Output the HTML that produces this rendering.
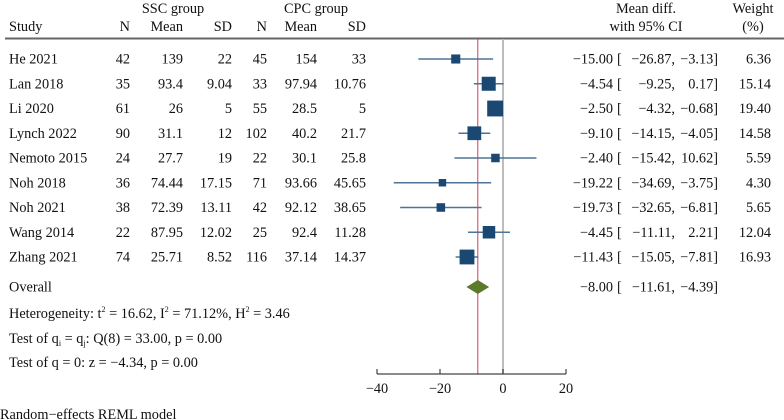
<!DOCTYPE html>
<html><head><meta charset="utf-8"><style>
html,body{margin:0;padding:0;background:#fff;}
svg{display:block;font-family:"Liberation Serif",serif;font-size:14.3px;fill:#111;}
</style></head><body>
<svg id="chart" width="784" height="420" viewBox="0 0 784 420" xmlns="http://www.w3.org/2000/svg">
<g id="head">
<text x="173" y="13" text-anchor="middle">SSC group</text>
<text x="316" y="13" text-anchor="middle">CPC group</text>
<text x="9" y="31">Study</text>
<text x="130" y="31" text-anchor="end">N</text>
<text x="183" y="31" text-anchor="end">Mean</text>
<text x="232" y="31" text-anchor="end">SD</text>
<text x="267" y="31" text-anchor="end">N</text>
<text x="317" y="31" text-anchor="end">Mean</text>
<text x="366" y="31" text-anchor="end">SD</text>
<text x="646" y="13" text-anchor="middle">Mean diff.</text>
<text x="646" y="31" text-anchor="middle">with 95% CI</text>
<text x="753" y="13" text-anchor="middle">Weight</text>
<text x="753" y="31" text-anchor="middle">(%)</text>
<line x1="5" y1="38.5" x2="784" y2="38.5" stroke="#666" stroke-width="2"/>
</g>
<g id="rows"></g>
<g id="plot"></g>
<g>
<text x="9" y="318">Heterogeneity: t<tspan font-size="8" dy="-6">2</tspan><tspan dy="6"> = 16.62, I</tspan><tspan font-size="8" dy="-6">2</tspan><tspan dy="6"> = 71.12%, H</tspan><tspan font-size="8" dy="-6">2</tspan><tspan dy="6"> = 3.46</tspan></text>
<text x="9" y="343">Test of q<tspan font-size="8" dy="3">i</tspan><tspan dy="-3"> = q</tspan><tspan font-size="8" dy="3">j</tspan><tspan dy="-3">: Q(8) = 33.00, p = 0.00</tspan></text>
<text x="9" y="367">Test of q = 0: z = −4.34, p = 0.00</text>
<text x="0" y="419">Random−effects REML model</text>
</g>
</svg>
<script>
const studies = ["He 2021","Lan 2018","Li 2020","Lynch 2022","Nemoto 2015","Noh 2018","Noh 2021","Wang 2014","Zhang 2021"];
const sscN = ["42","35","61","90","24","36","38","22","74"];
const sscMean = ["139","93.4","26","31.1","27.7","74.44","72.39","87.95","25.71"];
const sscSD = ["22","9.04","5","12","19","17.15","13.11","12.02","8.52"];
const cpcN = ["45","33","55","102","22","71","42","25","116"];
const cpcMean = ["154","97.94","28.5","40.2","30.1","93.66","92.12","92.4","37.14"];
const cpcSD = ["33","10.76","5","21.7","25.8","45.65","38.65","11.28","14.37"];
const est = [-15.00,-4.54,-2.50,-9.10,-2.40,-19.22,-19.73,-4.45,-11.43];
const lo = [-26.87,-9.25,-4.32,-14.15,-15.42,-34.69,-32.65,-11.11,-15.05];
const hi = [-3.13,0.17,-0.68,-4.05,10.62,-3.75,-6.81,2.21,-7.81];
const weight = [6.36,15.14,19.40,14.58,5.59,4.30,5.65,12.04,16.93];
const overall = [-8.00,-11.61,-4.39];
const ticks = [-40,-20,0,20];

const NS="http://www.w3.org/2000/svg";
const xS = v => 503 + v*3.15;
const yRow = i => 59 + i*24.75;
const yOverall = 287, axisY = 374;
const fmt = v => (v<0?"−":"")+Math.abs(v).toFixed(2);
function mk(tag, attrs, parent, txt){const e=document.createElementNS(NS,tag);for(const k in attrs)e.setAttribute(k,attrs[k]);if(txt!==undefined)e.textContent=txt;parent.appendChild(e);return e;}
const rows=document.getElementById('rows'), plot=document.getElementById('plot');

let l=mk('line',{x1:xS(0),x2:xS(0),y1:39,y2:axisY,stroke:'#bdbdbd','stroke-width':2},plot);


l=mk('line',{x1:xS(overall[0]),x2:xS(overall[0]),y1:39,y2:axisY,stroke:'#d0405a','stroke-width':1},plot);



const cols=[[130,sscN],[183,sscMean],[232,sscSD],[267,cpcN],[317,cpcMean],[366,cpcSD]];
const EX=613, BX=617, LX=675, HX=718;
studies.forEach((s,i)=>{
  const y=yRow(i), by=y+4.5;
  const g=mk('g',{},rows);
  
  
  let t=mk('text',{x:9,y:by},g,s);
  
  
  cols.forEach(([x,arr])=>{
    const c=mk('text',{x:x,y:by,'text-anchor':'end'},g,arr[i]);
    
    
  });
  t=mk('text',{x:EX,y:by,'text-anchor':'end'},g,fmt(est[i]));
  
  
  t=mk('text',{x:BX,y:by},g,'[');
  
  
  t=mk('text',{x:LX,y:by,'text-anchor':'end'},g,fmt(lo[i])+',');
  
  
  t=mk('text',{x:HX,y:by,'text-anchor':'end'},g,fmt(hi[i])+']');
  
  
  t=mk('text',{x:771,y:by,'text-anchor':'end'},g,weight[i].toFixed(2));
  
  
  const ci=mk('line',{x1:xS(lo[i]),x2:xS(hi[i]),y1:y,y2:y,stroke:'#4f7396','stroke-width':1.4},plot);
  
  
  const sz=3.6*Math.sqrt(weight[i]);
  const sq=mk('rect',{x:xS(est[i])-sz/2,y:y-sz/2,width:sz,height:sz,fill:'#1b4872'},plot);
  
  
});
let t=mk('text',{x:9,y:yOverall+4.5},rows,'Overall');


t=mk('text',{x:EX,y:yOverall+4.5,'text-anchor':'end'},rows,fmt(overall[0]));


t=mk('text',{x:BX,y:yOverall+4.5},rows,'[');


t=mk('text',{x:LX,y:yOverall+4.5,'text-anchor':'end'},rows,fmt(overall[1])+',');


t=mk('text',{x:HX,y:yOverall+4.5,'text-anchor':'end'},rows,fmt(overall[2])+']');


const d=mk('polygon',{points:`${xS(overall[1])},${yOverall} ${xS(overall[0])},${yOverall-7} ${xS(overall[2])},${yOverall} ${xS(overall[0])},${yOverall+7}`,fill:'#5b7a2c'},plot);


const ax=mk('line',{x1:xS(ticks[0]),x2:xS(ticks[ticks.length-1]),y1:axisY,y2:axisY,stroke:'#444','stroke-width':1.2},plot);


ticks.forEach(v=>{
  const tk=mk('line',{x1:xS(v),x2:xS(v),y1:axisY,y2:axisY-5,stroke:'#444','stroke-width':1.2},plot);
  
  
  const lb=mk('text',{x:xS(v),y:axisY+19,'text-anchor':'middle'},plot,(v<0?'−':'')+Math.abs(v));
  
  
});
</script>
</body></html>
